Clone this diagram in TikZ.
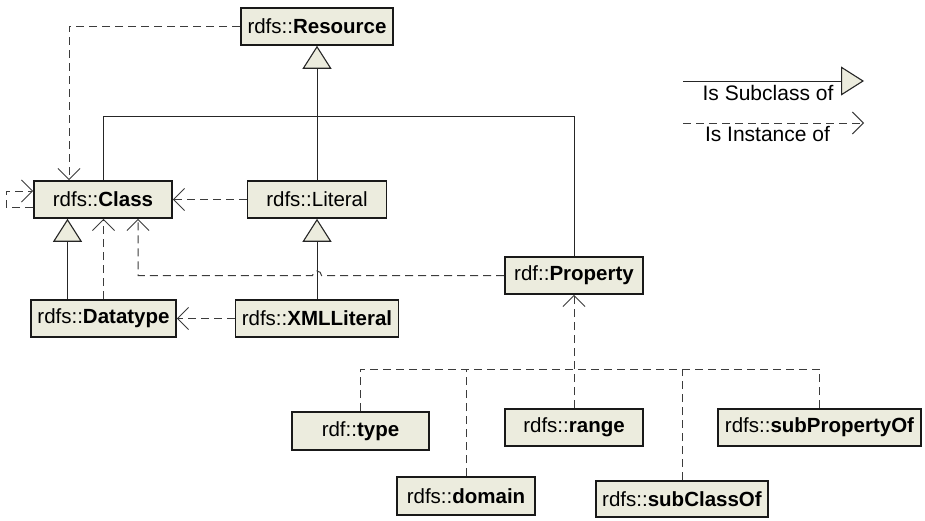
\documentclass[tikz,border=0pt]{standalone}
\usepackage{fontspec}
\setmainfont{Liberation Sans}
\usetikzlibrary{arrows.meta}
\definecolor{boxfill}{RGB}{236,236,222}
\definecolor{dashgray}{RGB}{60,60,60}
\tikzset{
  cls/.style={draw=black!90, line width=1.6pt, fill=boxfill, inner sep=0pt,
    minimum height=37pt, font=\fontsize{20.5}{24}\selectfont},
  subline/.style={draw=black!85, line width=1pt},
  sub/.style={subline, -{Triangle[length=23pt,width=29pt,fill=boxfill,line width=1.1pt]}},
  instline/.style={draw=dashgray, line width=1pt, dash pattern=on 8pt off 5pt},
  inst/.style={instline, -{Straight Barb[length=11pt,width=22pt,line width=1pt]}},
  legendtext/.style={font=\fontsize{21}{24}\selectfont, inner sep=0pt, anchor=base}
}
\begin{document}
\begin{tikzpicture}[x=1pt,y=1pt]
\useasboundingbox (0,0) rectangle (925,-520);

% class nodes
\node[cls, minimum width=152pt] (res)  at (317,-26.5)  {rdfs::\textbf{Resource}};
\node[cls, minimum width=138pt] (cls)  at (103,-199.5) {rdfs::\textbf{Class}};
\node[cls, minimum width=139pt] (lit)  at (317,-199.5) {rdfs::Literal};
\node[cls, minimum width=145pt] (dt)   at (103.5,-318.5) {rdfs::\textbf{Datatype}};
\node[cls, minimum width=163pt] (xml)  at (317,-318.5) {rdfs::\textbf{XMLLiteral}};
\node[cls, minimum width=138pt] (prop) at (574,-275.5) {rdf::\textbf{Property}};

% property nodes
\node[cls, minimum width=137pt, minimum height=38pt] (type) at (360.5,-431) {rdf::\textbf{type}};
\node[cls, minimum width=138pt, minimum height=38pt] (domain) at (466,-496) {rdfs::\textbf{domain}};
\node[cls, minimum width=138pt] (range) at (574,-427.5) {rdfs::\textbf{range}};
\node[cls, minimum width=172pt, minimum height=36pt] (subcls) at (682,-499) {rdfs::\textbf{subClassOf}};
\node[cls, minimum width=203pt] (subprop) at (819.5,-427.5) {rdfs::\textbf{subPropertyOf}};

% subclass edges
\coordinate (trunk) at (317,-116);
\draw[sub] (lit.north) -- (res.south);
\draw[subline] (cls.north) |- (trunk);
\draw[subline] (prop.north) |- (trunk);
\draw[sub] (xml.north) -- (lit.south);
\draw[sub] ([xshift=-36pt]dt.north) -- ([xshift=-36pt]dt.north |- cls.south);

% instance edges
\draw[inst] (res.west) -| ([xshift=-34pt]cls.north);
\draw[inst] ([yshift=-7.5pt]cls.west) -- ++(-27,0) |- ([yshift=8.5pt]cls.west);
\draw[inst] (lit.west) -- (cls.east);
\draw[inst] (dt.north) -- (dt.north |- cls.south);
\draw[inst] (xml.west) -- (dt.east);
\draw[inst] (prop.west) -- ([xshift=4.5pt]xml.north |- prop.west)
  arc[start angle=0, end angle=180, radius=4.5pt]
  -| ([xshift=35pt]cls.south);

% property instances
\coordinate (pbus) at (574,-369);
\draw[inst] (range.north) -- (prop.south);
\draw[instline] (type.north) |- (pbus);
\draw[instline] (subprop.north) |- (pbus);
\draw[instline] (domain.north) -- (domain.north |- pbus);
\draw[instline] (subcls.north) -- (subcls.north |- pbus);

% legend
\coordinate (ls1) at (683,-81);
\coordinate (le1) at (864,-81);
\coordinate (ls2) at (683,-123);
\coordinate (le2) at (864,-123);
\draw[sub] (ls1) -- (le1);
\draw[inst] (ls2) -- (le2);
\node[legendtext] (lsub) at (768,-100) {Is Subclass of};
\node[legendtext] (linst) at (767.5,-141) {Is Instance of};
\end{tikzpicture}
\end{document}
